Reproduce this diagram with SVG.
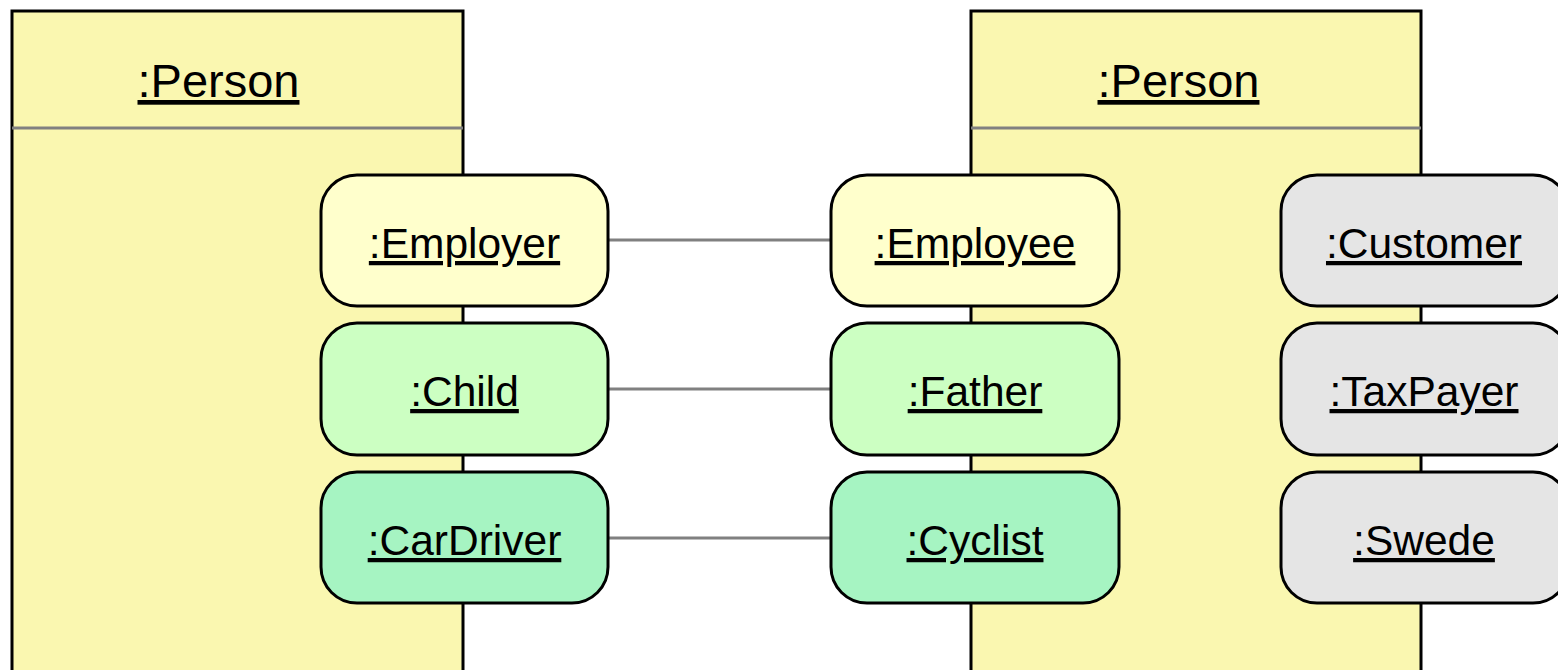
<svg xmlns="http://www.w3.org/2000/svg" width="1558" height="670" viewBox="0 0 1558 670">
  <style>
    .obj { fill: #FAF7B0; stroke: #000; stroke-width: 3; }
    .divider { stroke: #808080; stroke-width: 3; }
    .role { stroke: #000; stroke-width: 3; }
    .r1 { fill: #FFFFCC; }
    .r2 { fill: #CCFFC2; }
    .r3 { fill: #A6F4C2; }
    .r4 { fill: #E5E5E5; }
    .link { stroke: #808080; stroke-width: 3; fill: none; }
    text { font-family: "Liberation Sans", Arial, sans-serif; fill: #000; text-anchor: middle; text-decoration: underline; text-decoration-thickness: 2px; }
    .title { font-size: 47px; }
    .label { font-size: 42.5px; }
  </style>

  <!-- object instances -->
  <g id="person-left">
    <rect class="obj" x="12" y="11" width="451" height="680"/>
    <line class="divider" x1="12" y1="128" x2="463" y2="128"/>
    <text class="title" x="218.5" y="97">:Person</text>
  </g>
  <g id="person-right">
    <rect class="obj" x="971" y="11" width="450" height="680"/>
    <line class="divider" x1="971" y1="128" x2="1421" y2="128"/>
    <text class="title" x="1178.5" y="97">:Person</text>
  </g>

  <!-- links between roles -->
  <g id="connectors">
    <line class="link" x1="608" y1="240" x2="831" y2="240"/>
    <line class="link" x1="608" y1="389" x2="831" y2="389"/>
    <line class="link" x1="608" y1="538" x2="831" y2="538"/>
  </g>

  <!-- roles of the left person -->
  <g id="employer">
    <rect class="role r1" x="321" y="175" width="287" height="131" rx="36"/>
    <text class="label" x="464.5" y="258">:Employer</text>
  </g>
  <g id="child">
    <rect class="role r2" x="321" y="323" width="287" height="132" rx="36"/>
    <text class="label" x="464.5" y="406">:Child</text>
  </g>
  <g id="cardriver">
    <rect class="role r3" x="321" y="472" width="287" height="131" rx="36"/>
    <text class="label" x="464.5" y="555">:CarDriver</text>
  </g>

  <!-- roles of the right person -->
  <g id="employee">
    <rect class="role r1" x="831" y="175" width="288" height="131" rx="36"/>
    <text class="label" x="975" y="258">:Employee</text>
  </g>
  <g id="father">
    <rect class="role r2" x="831" y="323" width="288" height="132" rx="36"/>
    <text class="label" x="975" y="406">:Father</text>
  </g>
  <g id="cyclist">
    <rect class="role r3" x="831" y="472" width="288" height="131" rx="36"/>
    <text class="label" x="975" y="555">:Cyclist</text>
  </g>
  <g id="customer">
    <rect class="role r4" x="1281" y="175" width="288" height="131" rx="36"/>
    <text class="label" x="1424" y="258">:Customer</text>
  </g>
  <g id="taxpayer">
    <rect class="role r4" x="1281" y="323" width="288" height="132" rx="36"/>
    <text class="label" x="1424" y="406">:TaxPayer</text>
  </g>
  <g id="swede">
    <rect class="role r4" x="1281" y="472" width="288" height="131" rx="36"/>
    <text class="label" x="1424" y="555">:Swede</text>
  </g>
</svg>
